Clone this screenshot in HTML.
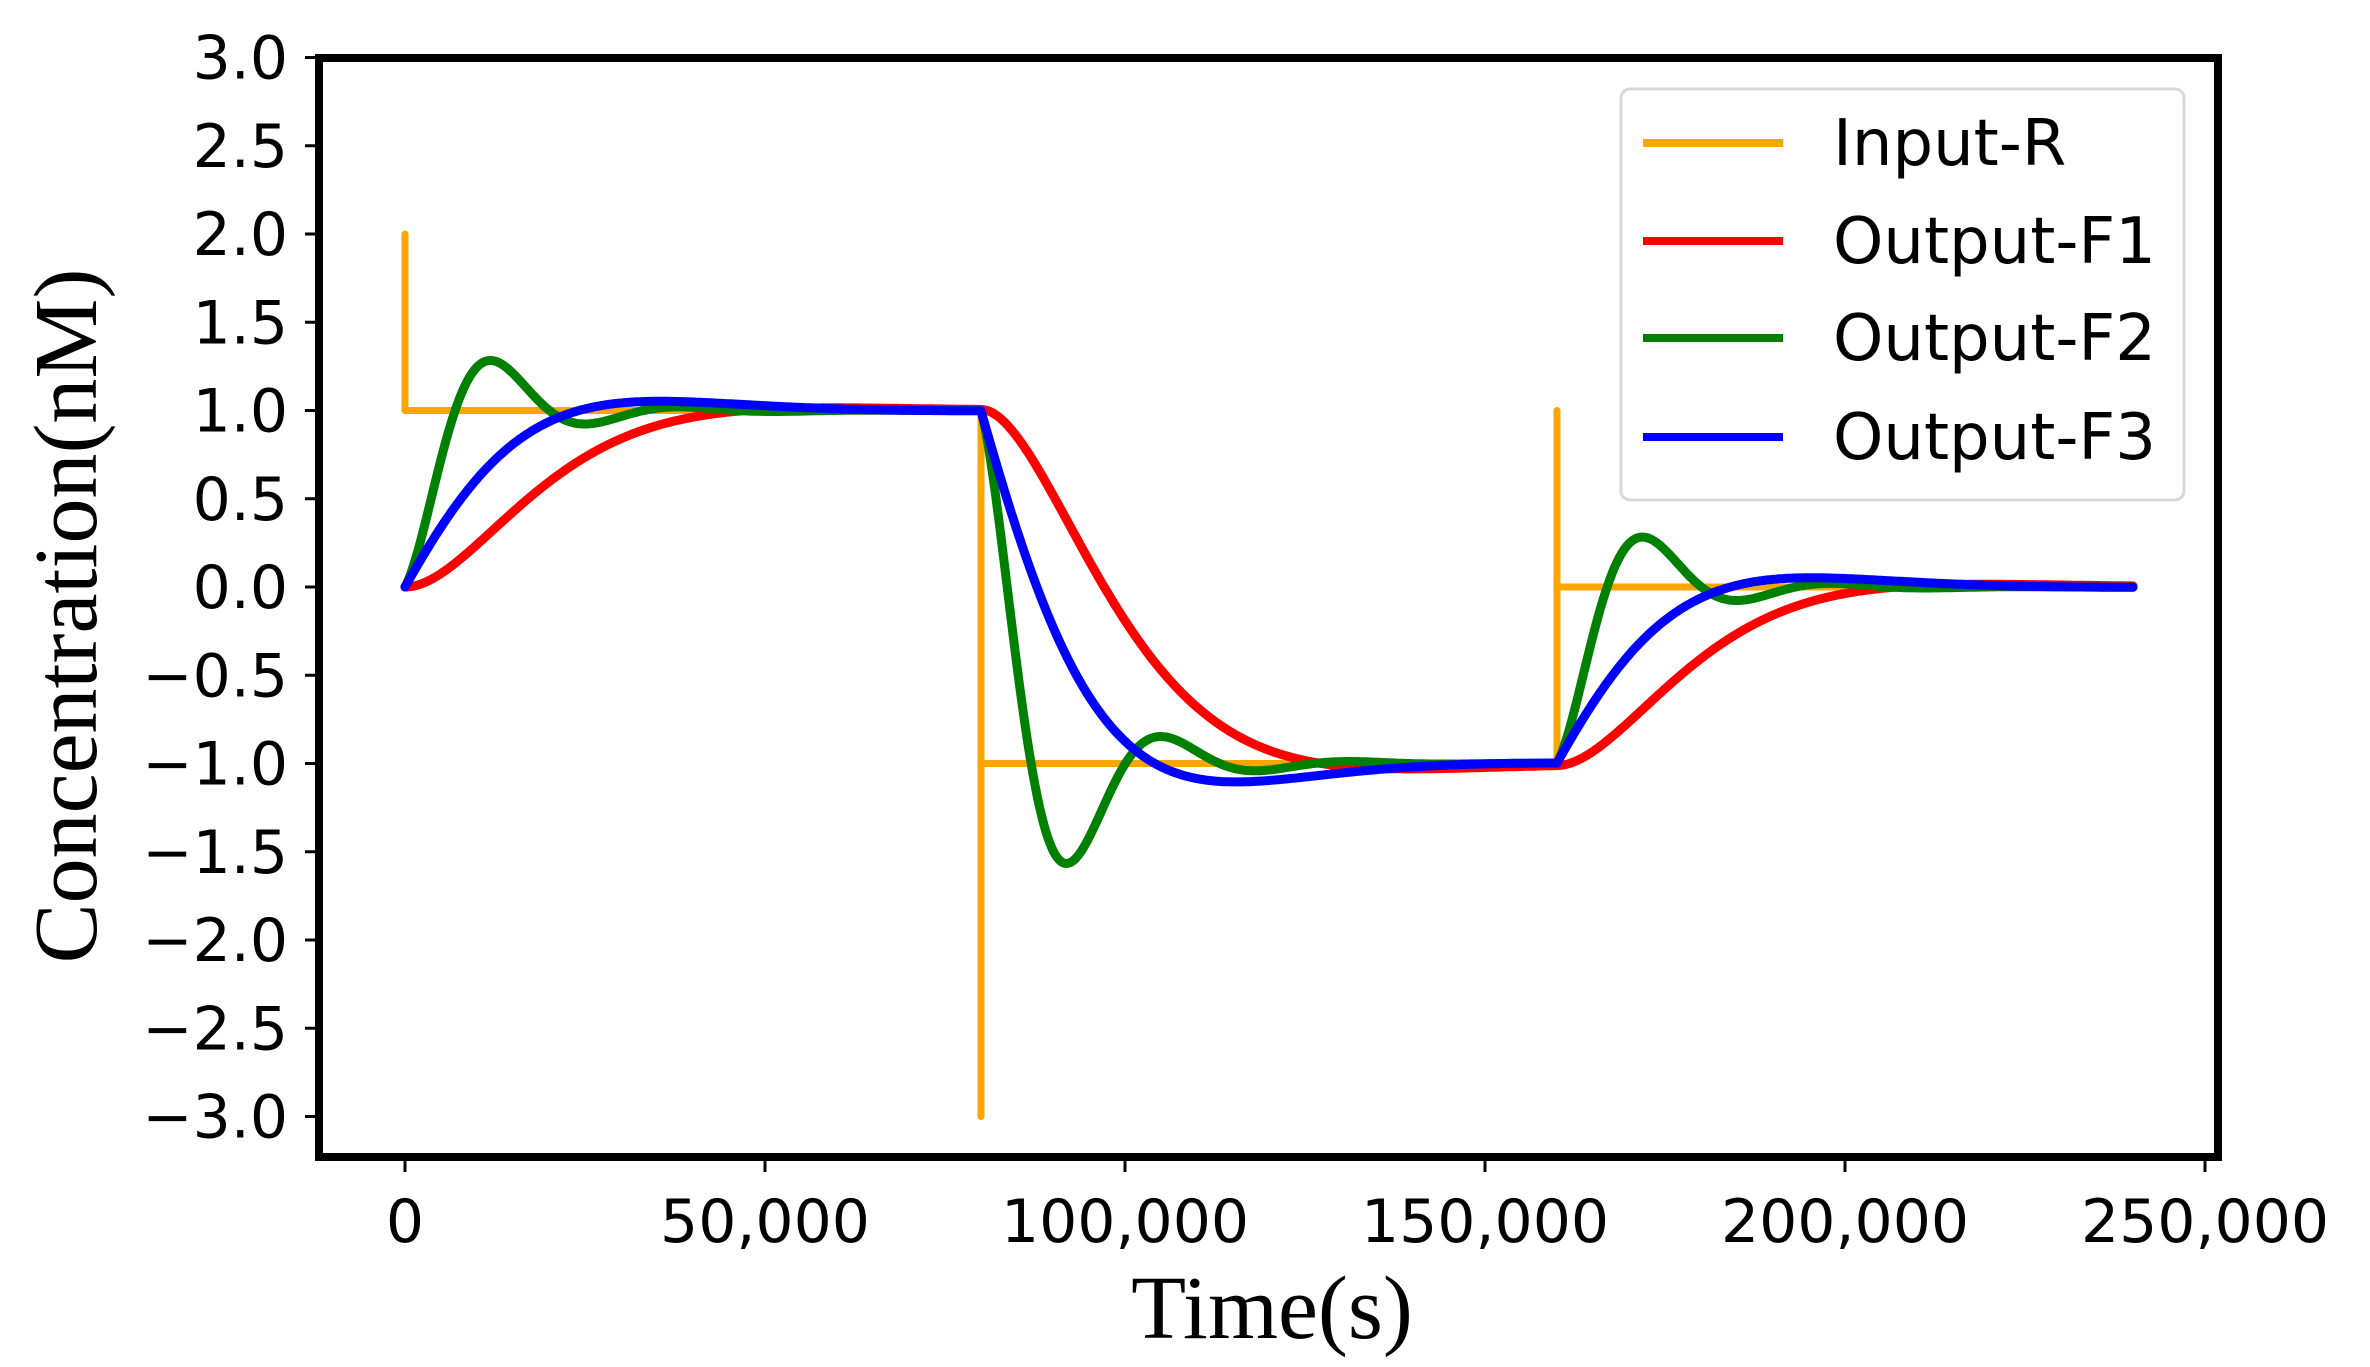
<!DOCTYPE html>
<html><head><meta charset="utf-8"><style>
html,body{margin:0;padding:0;background:#fff;}
svg{display:block;}
</style></head><body>
<svg id="s" width="2370" height="1367" viewBox="0 0 2370 1367" xmlns="http://www.w3.org/2000/svg">
<rect width="2370" height="1367" fill="#fff"/>
<g id="curves" fill="none" stroke-linejoin="round" stroke-linecap="round"></g>
<rect x="319" y="58" width="1899" height="1099" fill="none" stroke="#000" stroke-width="8"/>
<g id="ticks" stroke="#000" stroke-width="3"></g>
<g id="labels" font-family="DejaVu Sans, Liberation Sans, sans-serif" font-size="60" fill="#000"></g>
<text x="1272" y="1338" font-family="Liberation Serif, serif" font-size="90" text-anchor="middle">Time(s)</text>
<text transform="translate(96,616) rotate(-90)" font-family="Liberation Serif, serif" font-size="90" text-anchor="middle">Concentration(nM)</text>
<rect x="1621" y="89" width="563" height="411" rx="9" fill="#fff" fill-opacity="0.85" stroke="#d8d8d8" stroke-width="3"/>
<g stroke-width="8">
<line x1="1643" y1="143" x2="1783" y2="143" stroke="#ffa500"/>
<line x1="1643" y1="241" x2="1783" y2="241" stroke="#ff0000"/>
<line x1="1643" y1="338" x2="1783" y2="338" stroke="#008000"/>
<line x1="1643" y1="437" x2="1783" y2="437" stroke="#0000ff"/>
</g>
<g font-family="DejaVu Sans, Liberation Sans, sans-serif" font-size="64" fill="#000">
<text x="1833" y="165">Input-R</text>
<text x="1833" y="263">Output-F1</text>
<text x="1833" y="360">Output-F2</text>
<text x="1833" y="459">Output-F3</text>
</g>
</svg>
<script>
var NS="http://www.w3.org/2000/svg";
function X(t){return 405+0.00720*t;}
function Y(v){return 587-176.5*v;}
function el(p,tag,a){var e=document.createElementNS(NS,tag);for(var k in a)e.setAttribute(k,a[k]);p.appendChild(e);return e;}
var tk=document.getElementById('ticks'),lb=document.getElementById('labels');
for(var i=0;i<=12;i++){var v=3-0.5*i;var y=Y(v);
 el(tk,'line',{x1:305,y1:y,x2:319,y2:y});
 var t=el(lb,'text',{x:288,y:y+21,'text-anchor':'end'});t.textContent=(v<0?'\u2212':'')+Math.abs(v).toFixed(1);}
var xl=['0','50,000','100,000','150,000','200,000','250,000'];
for(var i=0;i<6;i++){var x=X(i*50000);
 el(tk,'line',{x1:x,y1:1157,x2:x,y2:1172});
 var t=el(lb,'text',{x:x,y:1242,'text-anchor':'middle'});t.textContent=xl[i];}
function s1(t){var z=0.8,wn=8.8e-5,wd=wn*Math.sqrt(1-z*z),sg=z*wn;return 1-Math.exp(-sg*t)*(Math.cos(wd*t)+sg/wd*Math.sin(wd*t));}
function s2(t){var sg=1.0e-4,w=2.4e-4,k=0.1;return 1-Math.exp(-sg*t)*(Math.cos(w*t)+k*Math.sin(w*t));}
function s3(t){var sg=0.72e-4,wd=0.65e-4;return 1-Math.exp(-sg*t)*Math.cos(wd*t);}
function resp(f,t){var v=0;if(t>=0)v+=f(t);if(t>=80000)v+=-2*f(t-80000);if(t>=160000)v+=f(t-160000);return v;}
var g=document.getElementById('curves');
var o=[[0,2],[0,1],[80000,1],[80000,-3],[80000,-1],[160000,-1],[160000,1],[160000,0],[240000,0]];
var d='';o.forEach(function(p,i){d+=(i?'L':'M')+X(p[0]).toFixed(1)+' '+Y(p[1]).toFixed(1);});
el(g,'path',{d:d,stroke:'#ffa500','stroke-width':7});
[[s1,'#ff0000'],[s2,'#008000'],[s3,'#0000ff']].forEach(function(c){
 var d='';for(var t=0;t<=240000;t+=250){d+=(t?'L':'M')+X(t).toFixed(1)+' '+Y(resp(c[0],t)).toFixed(1);}
 el(g,'path',{d:d,stroke:c[1],'stroke-width':9});});
</script>
</body></html>
